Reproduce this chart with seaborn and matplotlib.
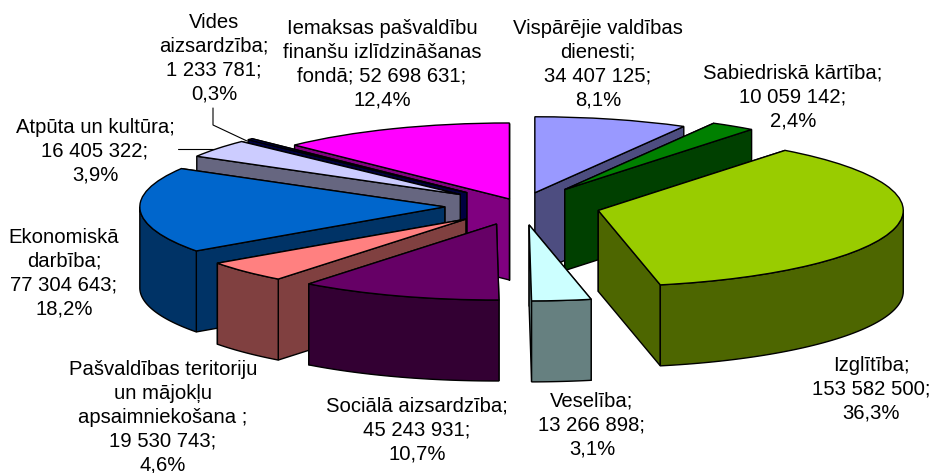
import numpy as np
import pandas as pd
import seaborn as sns
import matplotlib
matplotlib.use("Agg")
import matplotlib.pyplot as plt
from matplotlib.patches import Polygon

sns.set_style("white")
plt.rcParams['font.family'] = ['Liberation Sans', 'DejaVu Sans']

names = ["Vispārējie valdības\ndienesti;", "Sabiedriskā kārtība;", "Izglītība;", "Veselība;",
         "Sociālā aizsardzība;", "Pašvaldības teritoriju\nun mājokļu\napsaimniekošana ;",
         "Ekonomiskā\ndarbība;", "Atpūta un kultūra;", "Vides\naizsardzība;",
         "Iemaksas pašvaldību\nfinanšu izlīdzināšanas\nfondā;"]
values = [34407125, 10059142, 153582500, 13266898, 45243931, 19530743, 77304643, 16405322, 1233781, 52698631]
percents = ["8,1%", "2,4%", "36,3%", "3,1%", "10,7%", "4,6%", "18,2%", "3,9%", "0,3%", "12,4%"]
same_line_value = [False, False, False, False, False, False, False, False, False, True]
explode = [0.18, 0.26, 0.26, 0.25, 0.25, 0.25, 0.25, 0.25, 0.25, 0.10]
colors = sns.color_palette(["#9999FF", "#008000", "#99CC00", "#CCFFFF", "#660066",
                            "#FF8080", "#0066CC", "#CCCCFF", "#000080", "#FF00FF"])
draw_order = [9, 8, 7, 0, 1, 6, 2, 5, 4, 3]

W, H = 931, 473
CX, CY = 521, 206      # pie centre, px
RX, RY = 305, 76       # ellipse radii, px
DEPTH = 81 / RY        # wall height in pie units

label_px = [(598, 64), (793, 97), (871, 389), (592, 425), (417, 430),
            (163, 417), (64, 273), (95, 151), (214, 58), (382, 64)]

df = pd.DataFrame({"name": names, "value": values, "pct": percents})

def thousands(v):
    return f"{v:,}".replace(",", " ")

fig = plt.figure(figsize=(W / 100, H / 100), dpi=100)
ax = fig.add_axes([0, 0, 1, 1])
wedges, _ = ax.pie(df["value"], explode=explode, colors=colors, startangle=90, counterclock=False,
                   wedgeprops=dict(edgecolor="black", linewidth=1.0))
ax.set_aspect("auto")
ax.set_xlim(-CX / RX, (W - CX) / RX)
ax.set_ylim((CY - H) / RY, CY / RY)
ax.axis("off")

def to_xy(px, py):
    return (px - CX) / RX, (CY - py) / RY

for z, i in enumerate(draw_order):
    w = wedges[i]
    dark = tuple(c / 2 for c in colors[i])
    cx, cy = w.center
    t1, t2 = w.theta1, w.theta2
    base = 10 * z + 10
    w.set_zorder(base + 5)
    kw = dict(closed=True, facecolor=dark, edgecolor="black", linewidth=1.0)
    rim = lambda t: (cx + w.r * np.cos(np.radians(t)), cy + w.r * np.sin(np.radians(t)))
    # radial walls, the one further back first
    ends = sorted([t1, t2], key=lambda t: -rim(t)[1])
    for k, t in enumerate(ends):
        x, y = rim(t)
        ax.add_patch(Polygon([(cx, cy), (x, y), (x, y - DEPTH), (cx, cy - DEPTH)], zorder=base + k, **kw))
    # outer wall: only the part of the rim that faces the viewer
    arcs = [(max(t1 + s, 180), min(t2 + s, 360)) for s in (0, 360, -360)]
    for a, b in arcs:
        if b > a:
            th = np.radians(np.linspace(a, b, 60))
            xs = cx + w.r * np.cos(th)
            ys = cy + w.r * np.sin(th)
            pts = list(zip(xs, ys)) + list(zip(xs[::-1], ys[::-1] - DEPTH))
            ax.add_patch(Polygon(pts, zorder=base + 3, **kw))

for i, (px, py) in enumerate(label_px):
    sep = " " if same_line_value[i] else "\n"
    txt = f"{names[i]}{sep}{thousands(values[i])};\n{percents[i]}"
    x, y = to_xy(px, py)
    ax.text(x, y, txt, ha="center", va="center", fontsize=14.6, color="black", linespacing=1.33, zorder=500)

# leader lines
for pts in ([(178, 149), (214, 149)], [(213, 108), (213, 125), (247, 141)]):
    xy = [to_xy(*p) for p in pts]
    ax.plot(*zip(*xy), color="black", lw=0.8, zorder=5)

fig.savefig("out.png", dpi=100, facecolor="white")
